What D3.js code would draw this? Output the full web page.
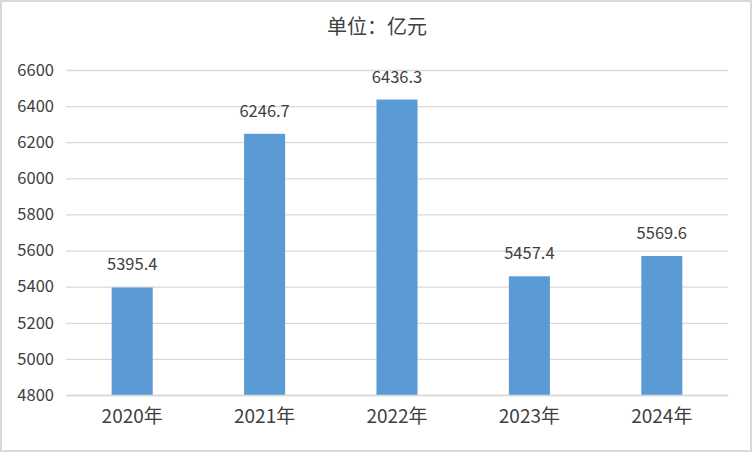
<!DOCTYPE html>
<html><head><meta charset="utf-8">
<script src="https://cdn.jsdelivr.net/npm/d3@7/dist/d3.min.js"></script>
<style>body{margin:0;background:#fff}svg{display:block}</style>
</head><body>
<svg id="c" width="752" height="452"></svg>
<script>
const categories = ["2020年","2021年","2022年","2023年","2024年"];
const values = [5395.4, 6246.7, 6436.3, 5457.4, 5569.6];
const yTicks = [4800,5000,5200,5400,5600,5800,6000,6200,6400,6600];
const title = "单位：亿元";

const W=752,H=452;
const svg=d3.select("#c");
const font='"Noto Sans CJK SC","Microsoft YaHei",sans-serif';
svg.append("rect").attr("x",1).attr("y",1).attr("width",W-2).attr("height",H-2)
  .attr("fill","#fff").attr("stroke","#d9d9d9").attr("stroke-width",2);

const x=d3.scaleBand().domain(categories).range([66,728]).paddingInner(0.69).paddingOuter(0.345);
const y=d3.scaleLinear().domain([4800,6600]).range([395,70]);

const grid=svg.append("g")
  .call(d3.axisLeft(y).tickValues(yTicks).tickSize(-(728-66)).tickFormat(""))
  .attr("transform","translate(66,0)");
grid.select(".domain").remove();
grid.selectAll("line").attr("stroke","#d9d9d9").attr("stroke-width",1.3);

const yAx=svg.append("g").attr("transform","translate(54,0)")
  .call(d3.axisLeft(y).tickValues(yTicks).tickSize(0).tickPadding(0).tickFormat(d3.format("d")));
yAx.select(".domain").remove();
yAx.selectAll("text").attr("font-family",font).attr("font-size",16.5).attr("fill","#404040");

svg.selectAll("rect.bar").data(values).join("rect").attr("class","bar")
  .attr("x",(d,i)=>x(categories[i])).attr("width",x.bandwidth())
  .attr("y",d=>y(d)).attr("height",d=>y(4800)-y(d)).attr("fill","#5b9bd5");

svg.selectAll("text.lbl").data(values).join("text").attr("class","lbl")
  .attr("x",(d,i)=>x(categories[i])+x.bandwidth()/2).attr("y",d=>y(d)-17)
  .attr("text-anchor","middle").attr("font-family",font).attr("font-size",16.5).attr("fill","#404040")
  .text(d=>d.toFixed(1));

const xAx=svg.append("g").attr("transform","translate(0,395)")
  .call(d3.axisBottom(x).tickSize(0).tickPadding(15));
xAx.select(".domain").attr("stroke","#d9d9d9").attr("stroke-width",1.3);
xAx.selectAll("text").attr("font-family",font).attr("font-size",19).attr("fill","#404040");

svg.append("text").attr("x",377).attr("y",34).attr("text-anchor","middle")
  .attr("font-family",font).attr("font-size",20).attr("fill","#404040").text(title);
</script>
</body></html>
